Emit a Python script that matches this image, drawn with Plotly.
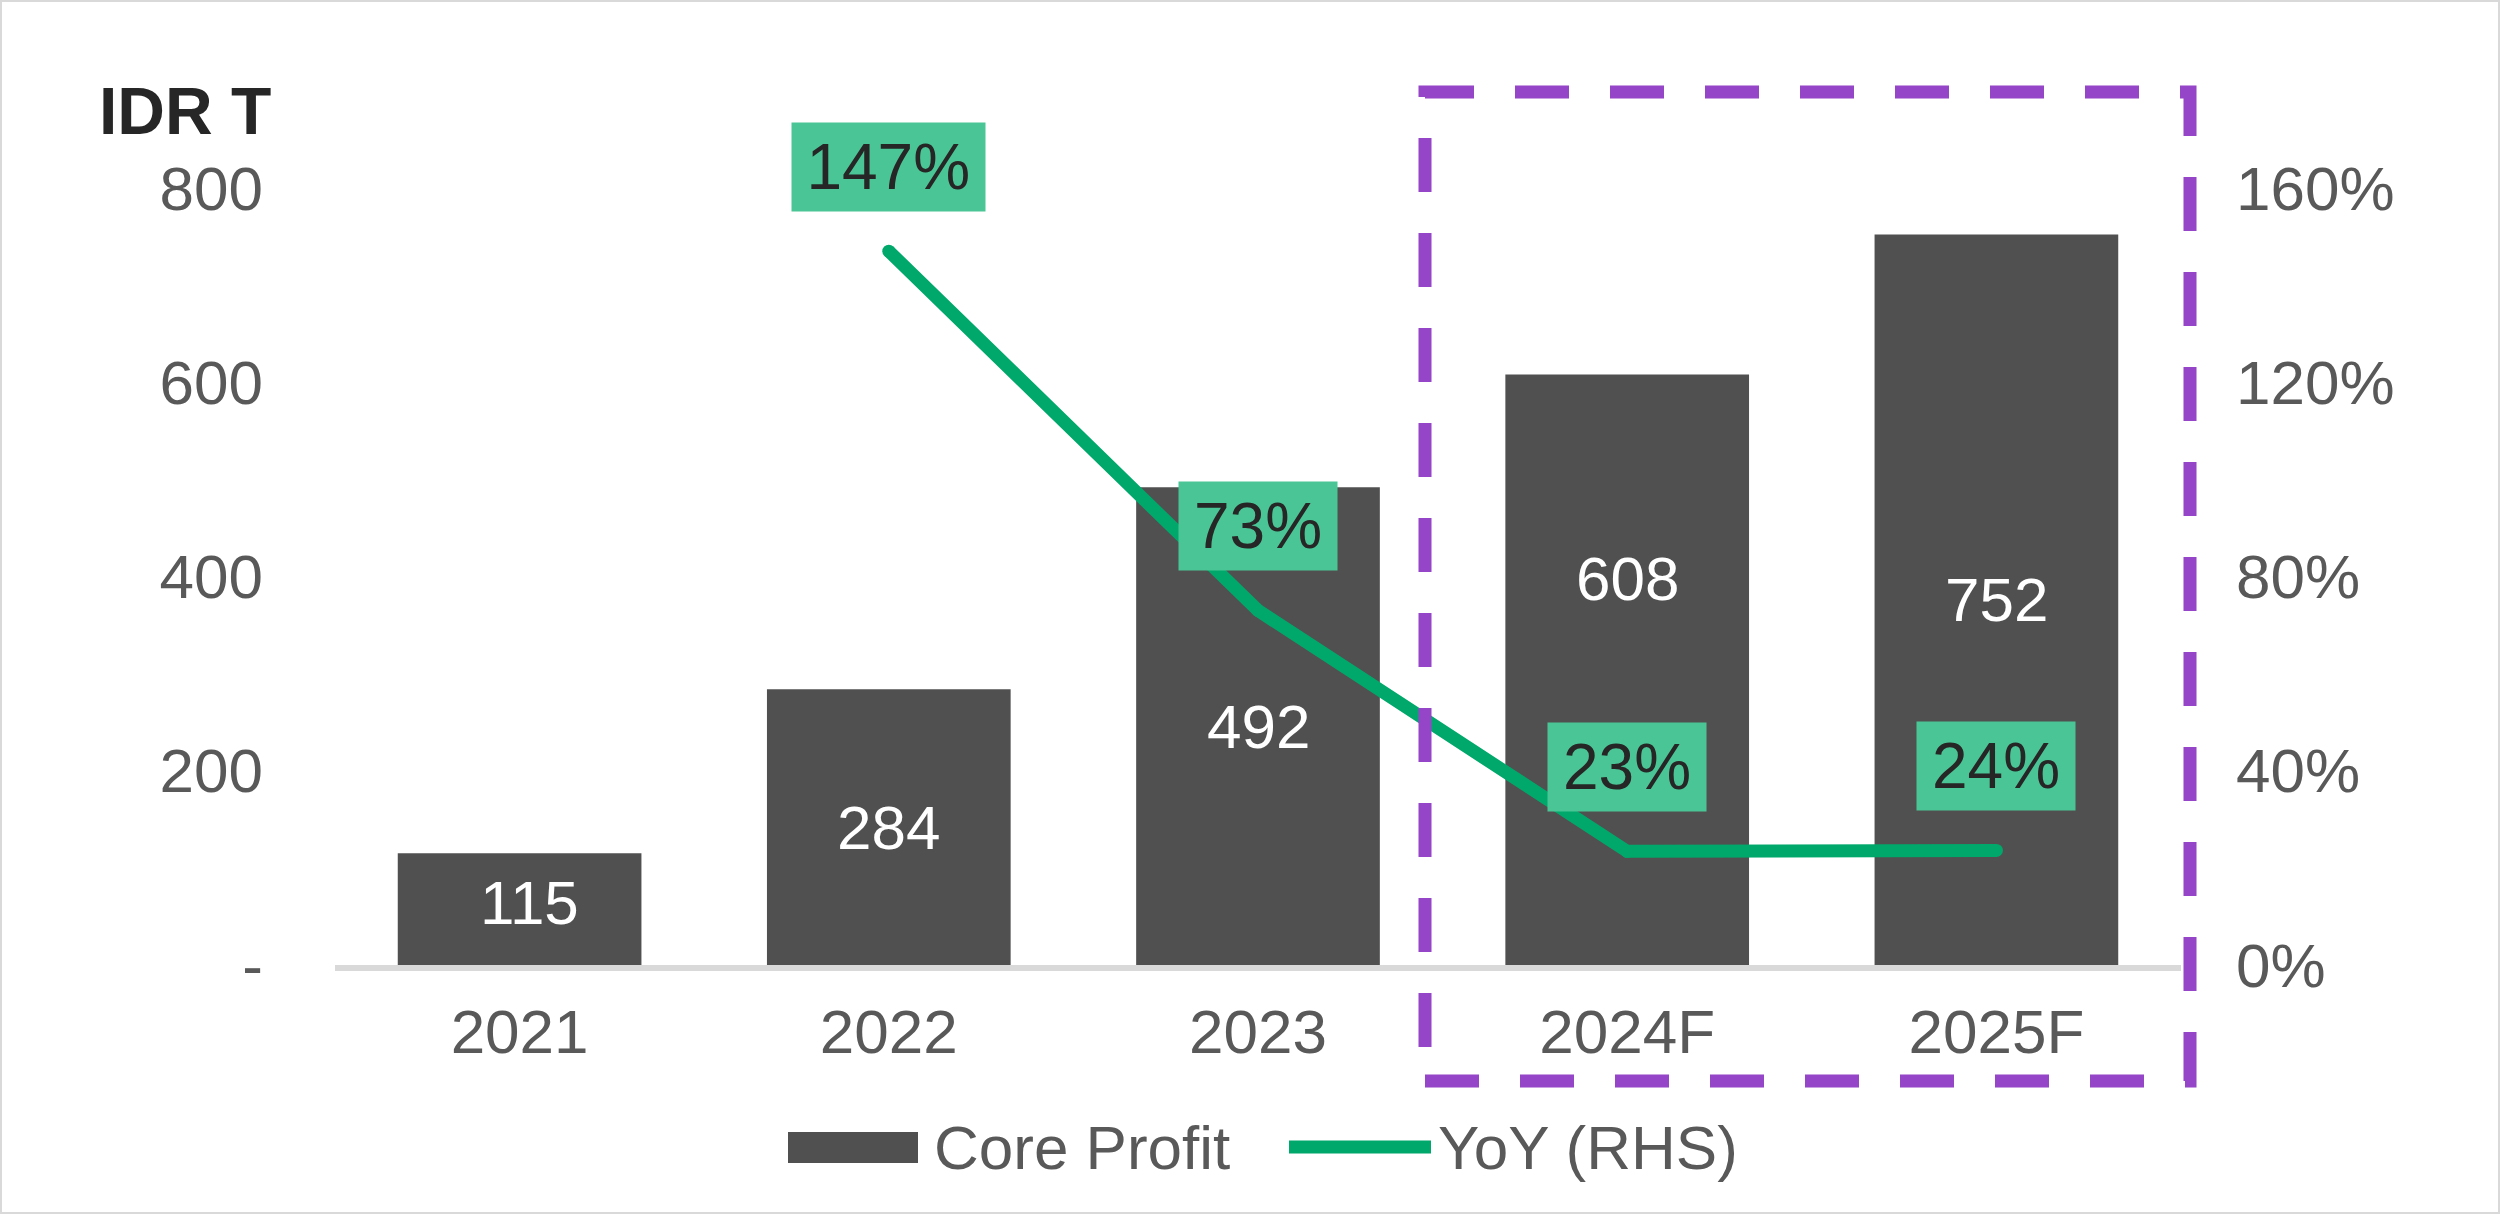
import plotly.graph_objects as go

# --- dados ---
anos = ["2021", "2022", "2023", "2024F", "2025F"]
core_profit = [115, 284, 492, 608, 752]
yoy = [None, 1.47, 0.73, 0.234, 0.236]
yoy_labels = ["", "147%", "73%", "23%", "24%"]

left_ticks = [0, 200, 400, 600, 800]
left_ticktext = ["-", "200", "400", "600", "800"]
right_ticks = [0, 0.4, 0.8, 1.2, 1.6]

# --- estilo ---
FONT = "Liberation Sans, Arial, sans-serif"
BAR_COLOR = "#505050"
LINE_COLOR = "#00A86B"
LABEL_BG = "#4AC596"
PURPLE = "#9445C8"
GREY_TXT = "#595959"
DARK_TXT = "#262626"
FS = 62

# posição vertical dos rótulos das barras (fração da altura da barra)
label_frac = [0.56, 0.5, 0.5, 0.655, 0.5]

W, H = 2500, 1214
L, R, T, B = 335, 319, 188, 249
pw, ph = W - L - R, H - T - B


def px_x(x):
    return (x - L) / pw


def px_y(y):
    return (H - B - y) / ph


fig = go.Figure()

fig.add_trace(go.Bar(
    x=anos, y=core_profit,
    name="Core Profit",
    marker=dict(color=BAR_COLOR, line=dict(width=0)),
    width=0.66,
    showlegend=False,
    hoverinfo="x+y",
))

# marcadores do mesmo tamanho da linha imitam pontas/junções arredondadas
fig.add_trace(go.Scatter(
    x=anos, y=yoy,
    name="YoY (RHS)",
    mode="lines+markers",
    yaxis="y2",
    line=dict(color=LINE_COLOR, width=13),
    marker=dict(color=LINE_COLOR, size=13, line=dict(width=0)),
    connectgaps=False,
    showlegend=False,
))

annotations = []

# rótulos das barras (x pelo índice da categoria, já que "2021" seria lido como número)
for i, (v, f) in enumerate(zip(core_profit, label_frac)):
    annotations.append(dict(
        x=i, y=v * f, xref="x", yref="y",
        text=str(v), showarrow=False,
        font=dict(family=FONT, size=FS, color="white"),
        xshift=10 if i == 0 else 0,
    ))

# rótulos do YoY
for i, (v, t) in enumerate(zip(yoy, yoy_labels)):
    if v is None:
        continue
    n_dig = len(t) - 1
    w = (0.556 * n_dig + 0.889) * FS + 34
    annotations.append(dict(
        x=i, y=v, xref="x", yref="y2",
        text=t, showarrow=False,
        font=dict(family=FONT, size=FS + 2, color=DARK_TXT),
        bgcolor=LABEL_BG, borderpad=0,
        width=w, height=88, align="center", valign="middle",
        yshift=84,
    ))

# unidade
annotations.append(dict(
    x=px_x(97), y=px_y(111), xref="paper", yref="paper",
    xanchor="left", yanchor="middle",
    text="<b>IDR T</b>", showarrow=False,
    font=dict(family=FONT, size=66, color=DARK_TXT),
))

# legenda manual
annotations.append(dict(
    x=px_x(932), y=px_y(1147), xref="paper", yref="paper",
    xanchor="left", yanchor="middle", text="Core Profit", showarrow=False,
    font=dict(family=FONT, size=FS, color=GREY_TXT),
))
annotations.append(dict(
    x=px_x(1436), y=px_y(1147), xref="paper", yref="paper",
    xanchor="left", yanchor="middle", text="YoY (RHS)", showarrow=False,
    font=dict(family=FONT, size=FS, color=GREY_TXT),
))

shapes = [
    # caixa tracejada das projeções
    dict(type="rect", xref="paper", yref="paper",
         x0=px_x(1425), x1=px_x(2190), y0=px_y(1081), y1=px_y(92),
         line=dict(color=PURPLE, width=13, dash="54px,41px"),
         fillcolor="rgba(0,0,0,0)", layer="above"),
    # símbolos da legenda
    dict(type="rect", xref="paper", yref="paper",
         x0=px_x(788), x1=px_x(918), y0=px_y(1163), y1=px_y(1132),
         line=dict(width=0), fillcolor=BAR_COLOR),
    dict(type="line", xref="paper", yref="paper",
         x0=px_x(1289), x1=px_x(1431), y0=px_y(1147), y1=px_y(1147),
         line=dict(color=LINE_COLOR, width=13)),
    # borda
    dict(type="rect", xref="paper", yref="paper",
         x0=px_x(1), x1=px_x(W - 1), y0=px_y(H - 1), y1=px_y(1),
         line=dict(color="#D9D9D9", width=2), fillcolor="rgba(0,0,0,0)"),
]

fig.update_layout(
    width=W, height=H,
    margin=dict(l=L, r=R, t=T, b=B, pad=0),
    paper_bgcolor="white", plot_bgcolor="white",
    font=dict(family=FONT, size=FS, color=GREY_TXT),
    bargap=0.34,
    xaxis=dict(
        type="category", range=[-0.5, 4.5],
        showline=True, linecolor="#D9D9D9", linewidth=6,
        showgrid=False, zeroline=False, ticks="",
        ticklabelstandoff=8,
        tickfont=dict(family=FONT, size=FS, color=GREY_TXT),
    ),
    yaxis=dict(
        range=[0, 800], tickvals=left_ticks, ticktext=left_ticktext,
        showgrid=False, zeroline=False, showline=False, ticks="",
        ticklabelstandoff=71,
        tickfont=dict(family=FONT, size=FS, color=GREY_TXT),
    ),
    yaxis2=dict(
        overlaying="y", side="right", range=[0, 1.6],
        tickvals=right_ticks, tickformat=".0%",
        showgrid=False, zeroline=False, showline=False, ticks="",
        ticklabelstandoff=54,
        tickfont=dict(family=FONT, size=FS, color=GREY_TXT),
    ),
    annotations=annotations,
    shapes=shapes,
)

# tira a margem padrão do <body> para a figura ocupar a janela toda
fig.write_html(
    "out.html",
    config={"displayModeBar": False},
    post_script="document.body.style.margin='0';",
)
